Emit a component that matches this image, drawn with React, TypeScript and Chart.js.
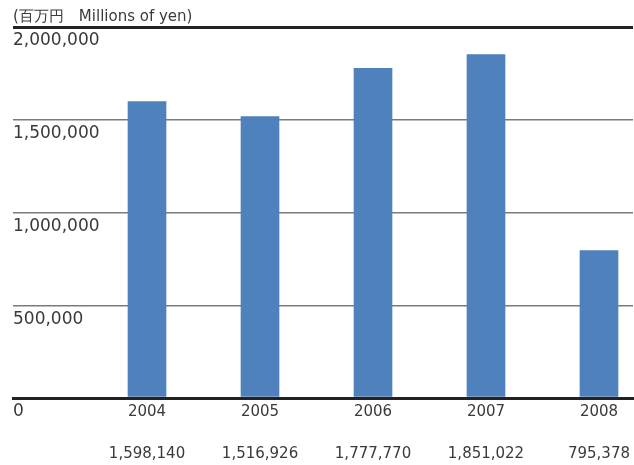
import React, { useEffect, useRef } from "react";
import { Chart, registerables } from "chart.js";

Chart.register(...registerables);

const years = [2004, 2005, 2006, 2007, 2008];
const values = [1598140, 1516926, 1777770, 1851022, 795378];
const yTicks = [0, 500000, 1000000, 1500000, 2000000];
const titleText = "(百万円\u3000Millions of yen)";

const FONT = "'DejaVu Sans', sans-serif";
const fmt = (v: number) => v.toLocaleString("en-US");

export default function App() {
  const ref = useRef<HTMLCanvasElement | null>(null);

  useEffect(() => {
    if (!ref.current) return;
    const chart = new Chart(ref.current, {
      type: "bar",
      data: {
        datasets: [
          {
            data: years.map((y, i) => ({ x: y, y: values[i] })),
            backgroundColor: "#4F81BD",
            barThickness: 38,
          },
        ],
      },
      options: {
        animation: false,
        responsive: false,
        maintainAspectRatio: false,
        layout: { padding: { left: 13, right: 1, top: 0, bottom: -3 } },
        plugins: {
          legend: { display: false },
          tooltip: { enabled: false },
          title: {
            display: true,
            text: titleText,
            align: "start",
            color: "#3a3a3a",
            font: { family: FONT, size: 15, weight: "normal" },
            padding: { top: 8, bottom: 1 },
          },
        },
        scales: {
          x: {
            type: "linear",
            offset: false,
            min: 2002.814,
            max: 2008.301,
            z: 1,
            grid: { display: false, drawTicks: false, offset: false },
            border: { display: true, color: "#222", width: 3 },
            afterBuildTicks: (axis: any) => {
              axis.ticks = years.map((v) => ({ value: v }));
            },
            ticks: {
              color: "#3a3a3a",
              font: { family: FONT, size: 15, lineHeight: 1.4 },
              padding: 3.5,
              maxRotation: 0,
              autoSkip: false,
              callback: (value: any, index: number) => [
                String(value),
                "",
                fmt(values[index]),
              ],
            },
          },
          y: {
            min: 0,
            max: 2000000,
            afterBuildTicks: (axis: any) => {
              axis.ticks = yTicks.map((v) => ({ value: v }));
            },
            grid: {
              drawTicks: false,
              color: (ctx: any) =>
                ctx.tick && (ctx.tick.value === 0 || ctx.tick.value === 2000000)
                  ? "#222"
                  : "#7a7a7a",
              lineWidth: (ctx: any) =>
                ctx.tick && (ctx.tick.value === 0 || ctx.tick.value === 2000000) ? 3 : 1.5,
            },
            border: { display: false },
            ticks: {
              mirror: true,
              padding: 0,
              labelOffset: 14,
              color: "#3a3a3a",
              font: { family: FONT, size: 17 },
              callback: (value: any) => fmt(Number(value)),
            },
          },
        },
      },
    } as any);
    return () => chart.destroy();
  }, []);

  return (
    <div style={{ position: "fixed", left: 0, top: 0, width: 634, height: 465, background: "#fff" }}>
      <canvas ref={ref} width={634} height={465} style={{ display: "block", width: 634, height: 465 }} />
    </div>
  );
}
